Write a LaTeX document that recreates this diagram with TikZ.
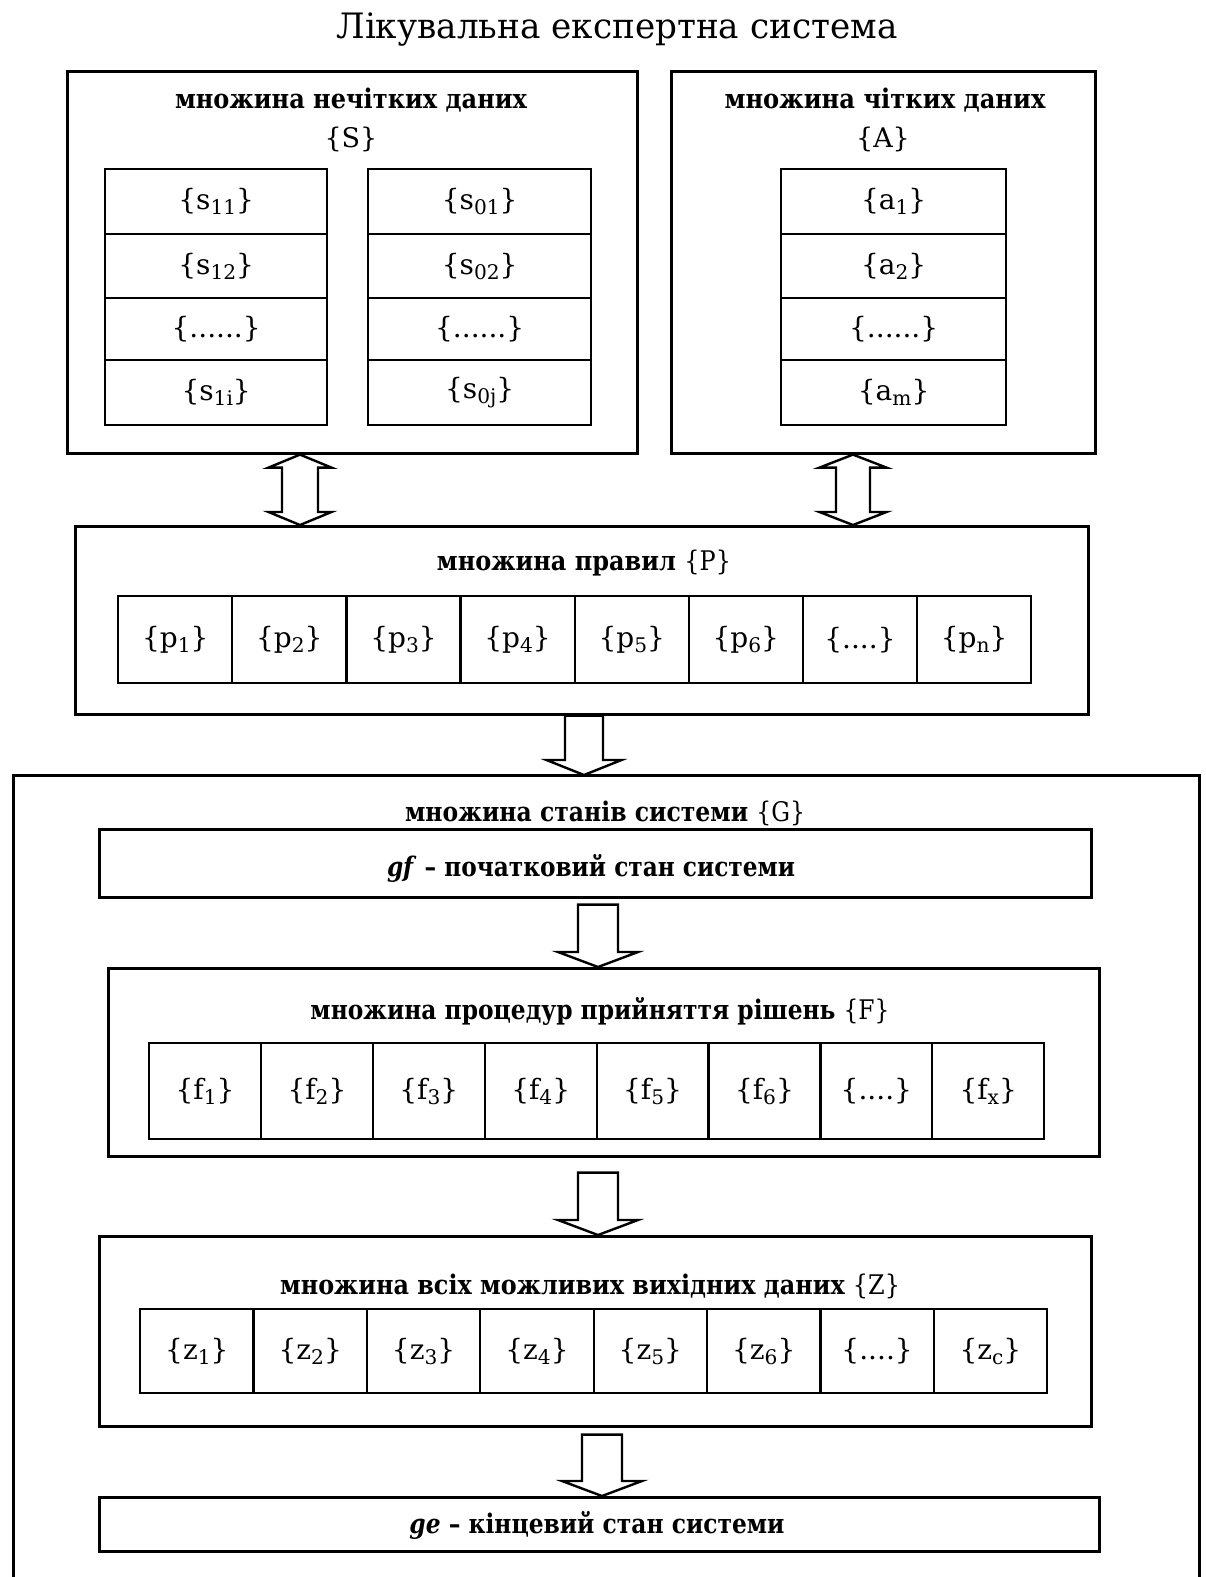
\documentclass[tikz,border=0pt]{standalone}
\usepackage{fontspec}
\usepackage{graphicx}
\setmainfont{DejaVu Serif}
\usetikzlibrary{calc}
\newcommand\sbs[1]{\raisebox{-0.35ex}{\scalebox{0.72}{#1}}}
\newcommand\fitw[2]{\resizebox{#1pt}{\height}{#2}}
\newcommand\dfour{\{....\}}
\tikzset{
  frame/.style={draw, line width=2.6pt, fill=white, inner sep=0pt, anchor=north west},
  cellbox/.style={draw, line width=2.3pt, inner sep=0pt, anchor=north west, font=\fontsize{28}{32}\selectfont},
  ttl/.style={inner sep=0pt, anchor=base, font=\fontsize{27}{30}\selectfont\bfseries},
  brc/.style={inner sep=0pt, anchor=base, font=\fontsize{27}{30}\selectfont},
  blk/.style={draw, line width=2.4pt, fill=white, line join=miter},
  bigframe/.style={draw=black, line width=3pt},
}
\newcommand\frm[5]{\node[frame, minimum width={#4-#2}, minimum height={#5-#3}] (#1) at (#2,#3) {};}
\newcommand\cellat[6]{\node[cellbox, minimum width={#4-#2}, minimum height={#5-#3}] (#1) at (#2,#3) {#6};}
\newcommand\blkdown[4]{%
  \draw[blk] let \p1=(#1), \p2=(#2) in
  ({\x1-#3pt},\y1) -- ({\x1-#3pt},{\y2+15pt}) -- ({\x1-#4pt},{\y2+15pt}) -- (\x1,\y2)
  -- ({\x1+#4pt},{\y2+15pt}) -- ({\x1+#3pt},{\y2+15pt}) -- ({\x1+#3pt},\y1) -- cycle;}
\newcommand\blkdouble[4]{%
  \draw[blk] let \p1=(#1), \p2=(#2) in
  (\x1,\y1) -- ({\x1+#4pt},{\y1-13pt}) -- ({\x1+#3pt},{\y1-13pt}) -- ({\x1+#3pt},{\y2+13pt})
  -- ({\x1+#4pt},{\y2+13pt}) -- (\x1,\y2) -- ({\x1-#4pt},{\y2+13pt}) -- ({\x1-#3pt},{\y2+13pt})
  -- ({\x1-#3pt},{\y1-13pt}) -- ({\x1-#4pt},{\y1-13pt}) -- cycle;}
\begin{document}
\begin{tikzpicture}[x=1pt,y=-1pt]
\useasboundingbox[fill=white] (0,0) rectangle (1205,1577);
% title
\node[inner sep=0pt, anchor=base, font=\fontsize{35}{38}\selectfont] (title) at (617,38) {\fitw{561}{Лікувальна експертна система}};
% big frame (bottom edge lies outside the picture)
\coordinate (gsw) at (13,1590);
\coordinate (gnw) at (13,775);
\coordinate (gne) at (1199,775);
\coordinate (gse) at (1199,1590);
\draw[bigframe] (gsw) -- (gnw) -- (gne) -- (gse);
% upper frames
\frm{lbox}{66}{70}{636}{452}
\frm{rbox}{670}{70}{1094}{452}
\node[ttl] (tS) at (351,108) {\fitw{352}{множина нечітких даних}};
\node[brc] (tS2) at (351,147) {\{S\}};
\node[ttl] (tA) at (885,108) {\fitw{321}{множина чітких даних}};
\node[brc] (tA2) at (883,147) {\{A\}};
% stacks
\cellat{s1a}{104}{168}{326}{233}{\{s\sbs{11}\}}
\cellat{s1b}{104}{233}{326}{297}{\{s\sbs{12}\}}
\cellat{s1c}{104}{297}{326}{359}{\{......\}}
\cellat{s1d}{104}{359}{326}{424}{\{s\sbs{1i}\}}
\cellat{s0a}{367}{168}{590}{233}{\{s\sbs{01}\}}
\cellat{s0b}{367}{233}{590}{297}{\{s\sbs{02}\}}
\cellat{s0c}{367}{297}{590}{359}{\{......\}}
\cellat{s0d}{367}{359}{590}{424}{\{s\sbs{0j}\}}
\cellat{aa}{780}{168}{1005}{233}{\{a\sbs{1}\}}
\cellat{ab}{780}{233}{1005}{297}{\{a\sbs{2}\}}
\cellat{ac}{780}{297}{1005}{359}{\{......\}}
\cellat{ad}{780}{359}{1005}{424}{\{a\sbs{m}\}}
% rules
\frm{rules}{74}{525}{1087}{713}
\node[ttl] (tP) at (584,570) {\fitw{294}{множина правил {\mdseries\{P\}}}};
\foreach \t [count=\i] in {{\{p\sbs{1}\}},{\{p\sbs{2}\}},{\{p\sbs{3}\}},{\{p\sbs{4}\}},{\{p\sbs{5}\}},{\{p\sbs{6}\}},\dfour,{\{p\sbs{n}\}}}{
  \pgfmathsetmacro\xa{117+(\i-1)*114.125}\pgfmathsetmacro\xb{\xa+114.125}
  \cellat{p\i}{\xa}{595}{\xb}{682}{\t}}
% states
\node[ttl] (tG) at (605,821) {\fitw{400}{множина станів системи {\mdseries\{G\}}}};
\frm{gf}{98}{828}{1090}{896}
\node[ttl] (tgf) at (591,876) {\fitw{408}{\textit{gf} – початковий стан системи}};
\frm{fbox}{107}{967}{1098}{1155}
\node[ttl] (tF) at (600,1019) {\fitw{579}{множина процедур прийняття рішень {\mdseries\{F\}}}};
\foreach \t [count=\i] in {{\{f\sbs{1}\}},{\{f\sbs{2}\}},{\{f\sbs{3}\}},{\{f\sbs{4}\}},{\{f\sbs{5}\}},{\{f\sbs{6}\}},\dfour,{\{f\sbs{x}\}}}{
  \pgfmathsetmacro\xa{148+(\i-1)*111.875}\pgfmathsetmacro\xb{\xa+111.875}
  \cellat{f\i}{\xa}{1042}{\xb}{1138}{\t}}
\frm{zbox}{98}{1235}{1090}{1425}
\node[ttl] (tZ) at (590,1294) {\fitw{620}{множина всіх можливих вихідних даних {\mdseries\{Z\}}}};
\foreach \t [count=\i] in {{\{z\sbs{1}\}},{\{z\sbs{2}\}},{\{z\sbs{3}\}},{\{z\sbs{4}\}},{\{z\sbs{5}\}},{\{z\sbs{6}\}},\dfour,{\{z\sbs{c}\}}}{
  \pgfmathsetmacro\xa{139+(\i-1)*113.375}\pgfmathsetmacro\xb{\xa+113.375}
  \cellat{z\i}{\xa}{1308}{\xb}{1392}{\t}}
\frm{ge}{98}{1496}{1098}{1550}
\node[ttl] (tge) at (597,1533) {\fitw{375}{\textit{ge} – кінцевий стан системи}};
% arrows
\blkdouble{300,0 |- lbox.south}{300,0 |- rules.north}{18}{31.5}
\blkdouble{853,0 |- rbox.south}{853,0 |- rules.north}{17}{33.5}
\blkdown{584,0 |- rules.south}{584,0 |- gnw}{19}{37.5}
\blkdown{$(598,0 |- gf.south)+(0,6)$}{598,0 |- fbox.north}{20}{40}
\blkdown{$(598,0 |- fbox.south)+(0,15)$}{598,0 |- zbox.north}{20}{40}
\blkdown{$(602,0 |- zbox.south)+(0,7)$}{602,0 |- ge.north}{20}{40}
\end{tikzpicture}
\end{document}
